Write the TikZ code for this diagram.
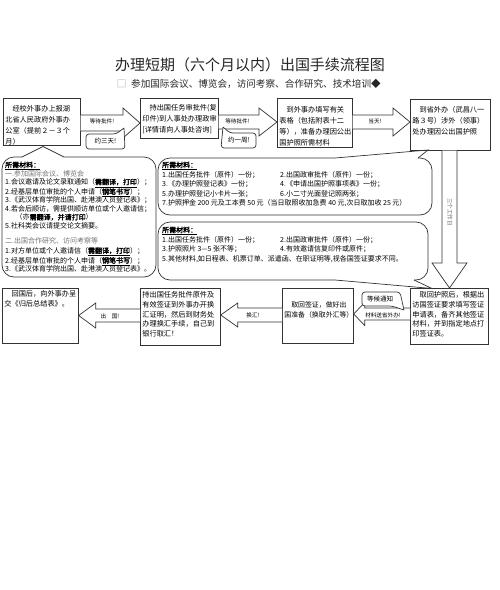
\documentclass[tikz,border=0pt]{standalone}
\usepackage{fontspec}
\setmainfont{Noto Sans CJK SC}[AutoFakeBold=2]
\usetikzlibrary{positioning}

\tikzset{
  box/.style={draw=black!80, line width=0.7pt, anchor=north west, inner sep=2pt, font=\fontsize{7.2}{11}\selectfont},
  lowbox/.style={box, font=\fontsize{7.2}{9.6}\selectfont},
  blk/.style={draw=black!80, line width=0.7pt, fill=white},
  albl/.style={inner sep=0pt, font=\fontsize{5.6}{6}\selectfont},
  bubble/.style={draw=black!80, line width=0.7pt},
  mtxt/.style={anchor=north west, inner sep=0pt, align=left, font=\fontsize{7}{9.5}\selectfont},
  mhead/.style={anchor=base west, inner sep=0pt, text=black!55, font=\fontsize{7}{8.5}\selectfont},
  note/.style={draw=black!80, line width=0.7pt, fill=white},
  ntxt/.style={inner sep=0pt, font=\fontsize{6.5}{7}\selectfont},
}

\newcommand{\boxtxt}[4]{\parbox[t][#2][t]{#1}{\vspace*{#3}#4}}
\newcommand{\keytxt}[1]{\textbf{\underline{#1}}}
\newcommand{\hblk}[7]{%
  \coordinate (s) at (#1 |- 0,#3);
  \coordinate (t) at (#2 |- 0,#3);
  \draw[blk] ([yshift=#5pt]s) -- ([xshift={-(#4)*#7pt},yshift=#5pt]t)
    -- ([xshift={-(#4)*#7pt},yshift=#6pt]t) -- (t)
    -- ([xshift={-(#4)*#7pt},yshift=-#6pt]t)
    -- ([xshift={-(#4)*#7pt},yshift=-#5pt]t) -- ([yshift=-#5pt]s);}

\begin{document}
\begin{tikzpicture}[x=1pt, y=-1pt]
\useasboundingbox (0,0) rectangle (500,590);

\node[box] (b1) at (3,98) {\boxtxt{73pt}{43pt}{5.4pt}{\hspace*{1em}经校外事办上报湖\\北省人民政府外事办\\公室（提前２－３个\\月）}};
\node[box] (b2) at (140,98) {\boxtxt{74pt}{36pt}{4.4pt}{\hspace*{1em}持出国任务审批件(复\\印件)到人事处办理政审\\{}[详情请向人事处咨询]}};
\node[box] (b3) at (277,98) {\boxtxt{71pt}{45pt}{6.4pt}{\hspace*{1em}到外事办填写有关\\表格（包括附表十二\\等），准备办理因公出\\国护照所需材料}};
\node[box] (b4) at (410,99) {\boxtxt{76pt}{47pt}{5.4pt}{\hspace*{1em}到省外办（武昌八一\\路３号）涉外（领事）\\处办理因公出国护照}};
\node[lowbox] (b5) at (2,288) {\boxtxt{72pt}{51pt}{0.4pt}{\hspace*{1em}回国后，向外事办呈\\交《归后总结表》。}};
\node[lowbox] (b6) at (140,288) {\boxtxt{76pt}{53pt}{1.4pt}{持出国任务批件原件及\\有效签证到外事办开换\\汇证明，然后到财务处\\办理换汇手续，自己到\\银行取汇！}};
\node[lowbox, font=\fontsize{6.9}{10}\selectfont] (b7) at (282,288) {\boxtxt{67pt}{51pt}{11.4pt}{\hspace*{1em}取回签证，做好出\\国准备（换取外汇等）}};
\node[lowbox] (b8) at (410,288) {\boxtxt{74pt}{52pt}{1.4pt}{\hspace*{1em}取回护照后，根据出\\访国签证要求填写签证\\申请表，备齐其他签证\\材料，并到指定地点打\\印签证表。}};

\hblk{b1.east}{b2.west}{123}{1}{8}{15}{17}
\hblk{b2.east}{b3.west}{122}{1}{7}{14}{18}
\hblk{b3.east}{b4.west}{122}{1}{7}{14}{17}
\hblk{b6.west}{b5.east}{315.5}{-1}{6.5}{12.5}{17}
\hblk{b7.west}{b6.east}{315}{-1}{7}{12}{17}
\hblk{b8.west}{b7.east}{314}{-1}{6}{11.5}{11}

\coordinate (d1) at (b4.south -| 449.5,0);
\coordinate (d2) at (b8.north -| 449.5,0);
\draw[blk] ([xshift=-7.5pt]d1) -- ([xshift=-7.5pt,yshift=25pt]d2) -- ([xshift=-17.5pt,yshift=25pt]d2) -- (d2)
  -- ([xshift=17.5pt,yshift=25pt]d2) -- ([xshift=7.5pt,yshift=25pt]d2) -- ([xshift=7.5pt]d1);

\draw[bubble, rounded corners=12pt] (335,158) -- (158,158) -- (158,215) -- (432,215) -- (432,158) -- (418,158);
\draw[bubble] (335,158) -- (428,150) -- (418,158);
\draw[bubble, rounded corners=12pt] (335,280) -- (158,280) -- (158,222) -- (428,222) -- (428,280) -- (414,280);
\draw[bubble] (335,280) -- (432,288.5) -- (414,280);

\node[albl] (w1) at (102,121) {等待批件!};
\node[albl] (w2) at (237.5,121) {等待批件!};
\node[albl] (w3) at (375,121.5) {当天!};
\node[albl] (w4) at (110,316) {出　国!};
\node[albl] (w5) at (253,315) {换汇!};
\node[albl] (w6) at (383,315) {材料送省外办!};
\node[albl, rotate=-90, text=black!60] (dl) at (450,212) {三个工作日};

\draw[note, rounded corners=3pt] (124,128) -- (125,149) -- (86,149) -- (86,134) -- (116,134) -- (124,128);
\draw[note, rounded corners=3pt] (223,127) -- (230,133) -- (256,133) -- (256,148) -- (221,148) -- (223,127);
\draw[note, rounded corners=3pt] (404,310) -- (392,306) -- (362,306) -- (362,292) -- (400,292) -- (404,310);
\node[ntxt] (n1) at (105.5,141.5) {约三天!};
\node[ntxt] (n2) at (239,140.5) {约一周!};
\node[ntxt] (n3) at (380,299) {等候通知};

\node[font=\fontsize{15}{18}\selectfont, text=black!85] (title) at (250,65) {办理短期（六个月以内）出国手续流程图};
\node[font=\fontsize{9.6}{12}\selectfont, text=black!85] (sub) at (256,83.5) {参加国际会议、博览会，访问考察、合作研究、技术培训◆};
\node[font=\fontsize{9.6}{12}\selectfont, text=black!40, left=1pt of sub.west, inner sep=0pt] (sq) {□};

\node[mtxt, font=\fontsize{7}{8.5}\selectfont] (m1) at (5,161.5) {\keytxt{所需材料：}\\
\mbox{}\\
1.会议邀请及论文录取通知（\keytxt{需翻译，打印}）；\\
2.经基层单位审批的个人申请（\keytxt{钢笔书写}）；\\
3.《武汉体育学院出国、赴港澳人员登记表》；\\
4.若会后顺访，需提供顺访单位或个人邀请信；\\
\hspace*{1.5em}（亦\textbf{需翻译，并请打印}）\\
5.社科类会议请提交论文摘要。\\[8pt]
\mbox{}\\
1.对方单位或个人邀请信（\keytxt{需翻译，打印}）；\\
2.经基层单位审批的个人申请（\keytxt{钢笔书写}）；\\
3.《武汉体育学院出国、赴港澳人员登记表》。};
\node[mhead] (h1) at (5,176.2) {一.参加国际会议、博览会};
\node[mhead] (h2) at (5,243.7) {二.出国合作研究、访问考察等};

\node[mtxt] (m2) at (162,161.5) {\keytxt{所需材料：}\\
\makebox[118pt][l]{1.出国任务批件（原件）一份；}2.出国政审批件（原件）一份；\\
\makebox[118pt][l]{3.《办理护照登记表》一份；}4.《申请出国护照事项表》一份；\\
\makebox[118pt][l]{5.办理护照登记小卡片一张；}6.小二寸光面登记照两张；\\
7.护照押金 200 元及工本费 50 元（当日取照收加急费 40 元,次日取加收 25 元）};

\node[mtxt, font=\fontsize{7}{9.7}\selectfont] (m3) at (162,226.5) {\keytxt{所需材料：}\\
\makebox[118pt][l]{1.出国任务批件（原件）一份；}2.出国政审批件（原件）一份；\\
\makebox[118pt][l]{3.护照照片 3—5 张不等；}4.有效邀请信复印件或原件；\\
5.其他材料,如日程表、机票订单、派遣函、在职证明等,视各国签证要求不同。};

\draw[bubble, rounded corners=12pt] (22,157) -- (2,157) -- (2,277) -- (156,277) -- (156,157) -- (64,157);
\draw[bubble] (22,157) -- (43,146.5) -- (64,157);

\end{tikzpicture}
\end{document}
